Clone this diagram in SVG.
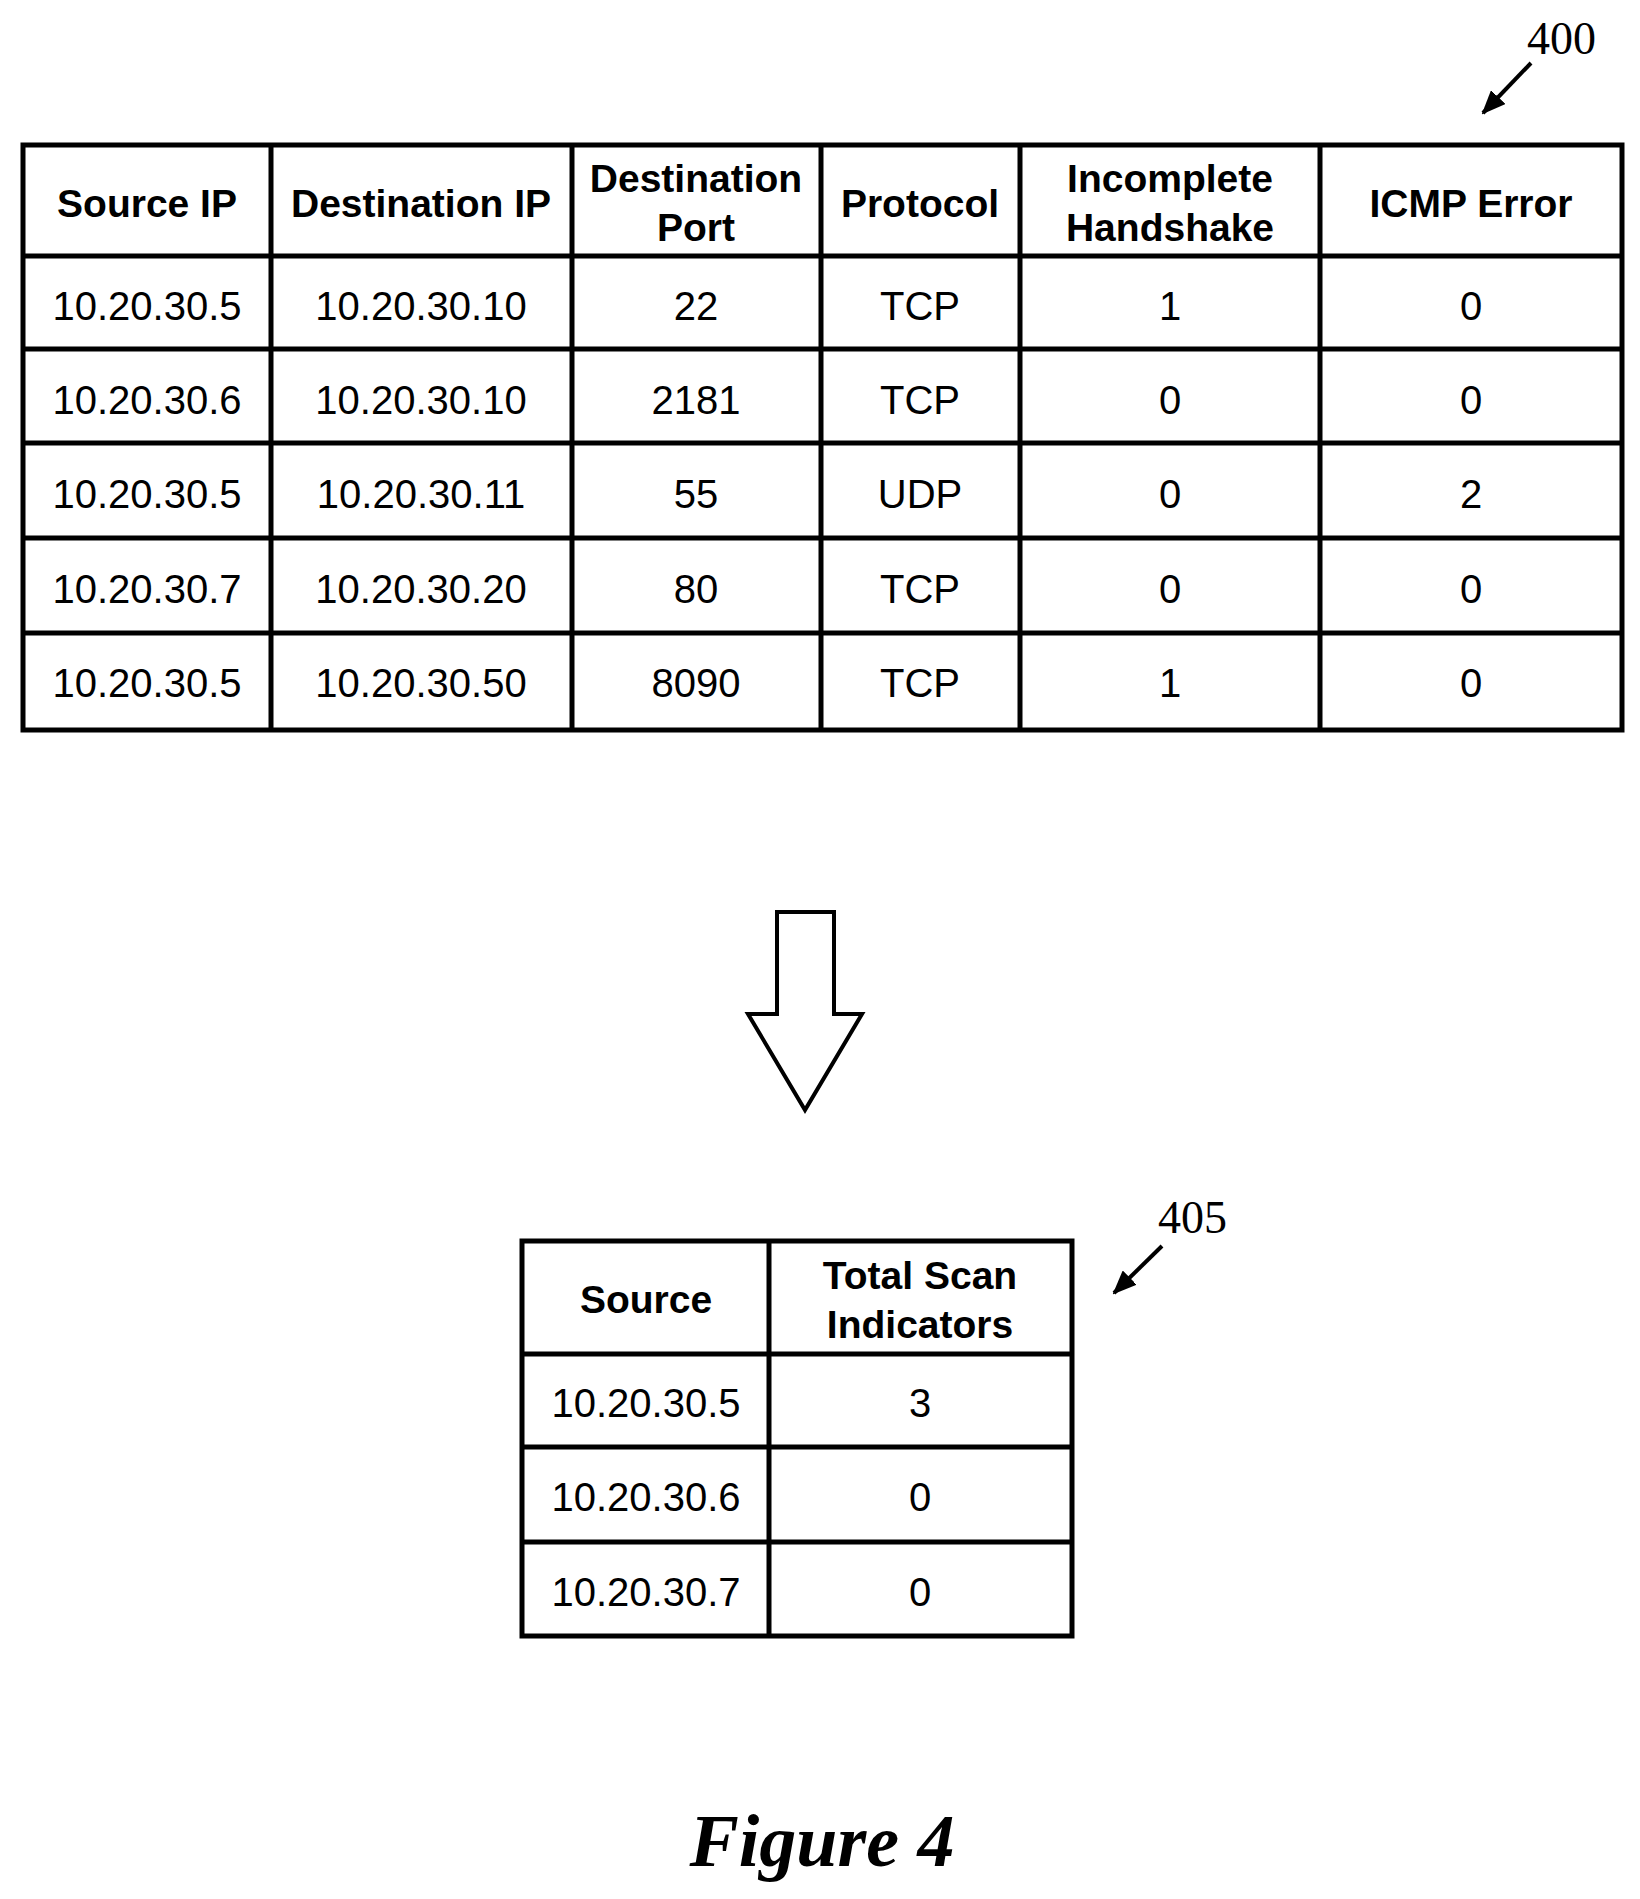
<svg xmlns="http://www.w3.org/2000/svg" width="1640" height="1899" viewBox="0 0 1640 1899">
<style>
.g{fill:none;stroke:#000;stroke-width:5}
.h{font-family:"Liberation Sans",Arial,sans-serif;font-weight:bold;font-size:39px;text-anchor:middle}
.d{font-family:"Liberation Sans",Arial,sans-serif;font-size:40px;text-anchor:middle}
.r{font-family:"Liberation Serif","Times New Roman",serif;font-size:46px}
</style>
<defs><marker id="a" markerWidth="24" markerHeight="20" refX="22" refY="10" orient="auto" markerUnits="userSpaceOnUse" viewBox="0 0 24 20"><path d="M0,0L24,10L0,20z"/></marker></defs>
<rect width="1640" height="1899" fill="#fff"/>
<g id="table400">
<rect class="g" x="23" y="145" width="1599" height="585"/>
<path class="g" d="M271,145V730M572,145V730M821,145V730M1020,145V730M1320,145V730M23,256H1622M23,349H1622M23,443H1622M23,538H1622M23,633H1622"/>
<text class="h" x="147" y="217">Source IP</text>
<text class="h" x="421" y="217">Destination IP</text>
<text class="h" x="696" y="192">Destination</text><text class="h" x="696" y="241">Port</text>
<text class="h" x="920" y="217">Protocol</text>
<text class="h" x="1170" y="192">Incomplete</text><text class="h" x="1170" y="241">Handshake</text>
<text class="h" x="1471" y="217">ICMP Error</text>
<g class="d">
<text x="147" y="320">10.20.30.5</text><text x="421" y="320">10.20.30.10</text><text x="696" y="320">22</text><text x="920" y="320">TCP</text><text x="1170" y="320">1</text><text x="1471" y="320">0</text>
<text x="147" y="414">10.20.30.6</text><text x="421" y="414">10.20.30.10</text><text x="696" y="414">2181</text><text x="920" y="414">TCP</text><text x="1170" y="414">0</text><text x="1471" y="414">0</text>
<text x="147" y="508">10.20.30.5</text><text x="421" y="508">10.20.30.11</text><text x="696" y="508">55</text><text x="920" y="508">UDP</text><text x="1170" y="508">0</text><text x="1471" y="508">2</text>
<text x="147" y="603">10.20.30.7</text><text x="421" y="603">10.20.30.20</text><text x="696" y="603">80</text><text x="920" y="603">TCP</text><text x="1170" y="603">0</text><text x="1471" y="603">0</text>
<text x="147" y="697">10.20.30.5</text><text x="421" y="697">10.20.30.50</text><text x="696" y="697">8090</text><text x="920" y="697">TCP</text><text x="1170" y="697">1</text><text x="1471" y="697">0</text>
</g>
</g>
<g id="table405">
<rect class="g" x="522" y="1241" width="550" height="395"/>
<path class="g" d="M769,1241V1636M522,1354H1072M522,1447H1072M522,1542H1072"/>
<text class="h" x="646" y="1313">Source</text>
<text class="h" x="920" y="1289">Total Scan</text><text class="h" x="920" y="1338">Indicators</text>
<g class="d">
<text x="646" y="1417">10.20.30.5</text><text x="920" y="1417">3</text>
<text x="646" y="1511">10.20.30.6</text><text x="920" y="1511">0</text>
<text x="646" y="1606">10.20.30.7</text><text x="920" y="1606">0</text>
</g>
</g>
<g id="labels">
<text class="r" x="1527" y="54">400</text>
<text class="r" x="1158" y="1233">405</text>
<text x="822" y="1866" font-family="'Liberation Serif','Times New Roman',serif" font-weight="bold" font-style="italic" font-size="74" text-anchor="middle">Figure 4</text>
</g>
<g id="connectors">
<polygon points="777,912 834,912 834,1014 862,1014 805,1110 748,1014 777,1014" fill="#fff" stroke="#000" stroke-width="4" stroke-linejoin="miter"/>
<line x1="1531" y1="63" x2="1483" y2="113" stroke="#000" stroke-width="4" marker-end="url(#a)"/>
<line x1="1162" y1="1246" x2="1114" y2="1293" stroke="#000" stroke-width="4" marker-end="url(#a)"/>
</g>
</svg>
